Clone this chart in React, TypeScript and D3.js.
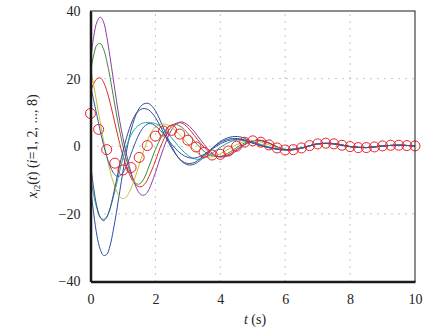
import React, { useEffect, useRef } from 'react';
import * as d3 from 'd3';

// sample times (s) for the eight follower curves
const curveTimes = [
  0, 0.1, 0.2, 0.3, 0.4, 0.5, 0.6, 0.7, 0.8, 0.9, 1.0, 1.1, 1.2, 1.3, 1.4, 1.5, 1.6, 1.7, 1.8, 1.9, 2.0,
  2.2, 2.4, 2.6, 2.8, 3.0, 3.2, 3.4, 3.6, 3.8, 4.0, 4.3, 4.6, 4.9, 5.2, 5.5, 5.8, 6.1, 6.5, 7, 7.5, 8, 8.5, 9, 9.5, 10,
];

const purpleValues = [
  25, 32.5, 36.8, 38.2, 36.8, 32.5, 26.5, 20, 13.5, 7.5, 2.5, -2, -6, -9.3, -12, -13.8, -14.5, -14.2, -12.8, -10.5, -7.8,
  -2, 3, 6.2, 7.2, 6.3, 4.3, 1.8, -0.6, -2.4, -3.2, -2.6, -0.6, 1.2, 1.8, 1.0, -0.4, -1.1, -0.6, 0.7, 0.8, -0.1, -0.4, 0.1, 0.3, 0.1,
];
const greenValues = [
  22, 27, 30, 30.4, 28.8, 25.3, 20.5, 15, 9.5, 4.5, 0, -3.8, -7, -9.5, -11, -11.2, -10.3, -8.5, -6, -3.5, -1,
  3, 5.7, 6.5, 5.7, 3.8, 1.5, -0.6, -2.2, -3, -3, -1.7, 0.2, 1.5, 1.7, 0.9, -0.4, -1.1, -0.6, 0.7, 0.8, -0.1, -0.4, 0.1, 0.3, 0.1,
];
const redValues = [
  16, 18.5, 20, 20.2, 19, 16.5, 13, 9, 4.8, 0.8, -2.8, -5.8, -8.3, -10.2, -11.4, -12, -11.8, -10.8, -9, -6.8, -4.3,
  0.8, 4.6, 6.6, 6.9, 5.5, 3.2, 0.8, -1.3, -2.7, -3.1, -2.2, -0.3, 1.3, 1.8, 1.0, -0.4, -1.1, -0.6, 0.7, 0.8, -0.1, -0.4, 0.1, 0.3, 0.1,
];
const yellowValues = [
  23, 18, 12.5, 7, 1.8, -3, -7.2, -10.6, -13.2, -14.9, -15.5, -15, -13.5, -11.3, -8.5, -5.5, -2.5, 0.3, 2.7, 4.5, 5.7,
  6.6, 6.2, 4.8, 2.8, 0.7, -1.2, -2.6, -3.2, -3, -2.2, -0.6, 0.9, 1.7, 1.4, 0.4, -0.6, -1.0, -0.5, 0.7, 0.7, -0.1, -0.4, 0.1, 0.3, 0.1,
];
const blueValues = [
  18, 13.5, 9, 4.5, 0.5, -3, -5.8, -7.8, -8.8, -8.8, -7.8, -6, -3.6, -1, 1.5, 3.6, 5.2, 6.2, 6.7, 6.6, 6,
  4.2, 1.8, -0.5, -2.3, -3.3, -3.5, -2.9, -1.8, -0.5, 0.7, 1.8, 1.9, 1.2, 0.3, -0.4, -0.9, -1.0, -0.5, 0.7, 0.7, -0.1, -0.4, 0.1, 0.3, 0.1,
];
const navyValues = [
  -5, -12.5, -18, -21, -22, -21, -18.5, -14.5, -10, -5.5, -1.5, 2.2, 5.3, 7.8, 9.6, 10.6, 11.1, 11.1, 10.7, 9.8, 8.5,
  5, 1.2, -2, -4.2, -5.1, -4.8, -3.5, -1.8, -0.2, 1.1, 2.2, 2.2, 1.3, 0.3, -0.4, -0.9, -1.0, -0.5, 0.7, 0.7, -0.1, -0.4, 0.1, 0.3, 0.1,
];
const deepBlueValues = [
  -12, -20, -26.5, -30.5, -32.3, -32, -29.5, -25, -19.5, -13.5, -7.5, -2, 2.8, 6.5, 9.3, 11.2, 12.3, 12.7, 12.6, 11.8, 10.5,
  6.5, 2, -1.8, -4.4, -5.5, -5.3, -4, -2.1, -0.2, 1.4, 2.7, 2.8, 1.7, 0.5, -0.4, -1.0, -1.1, -0.5, 0.7, 0.7, -0.1, -0.4, 0.1, 0.3, 0.1,
];
const cyanValues = [
  -9, -14.5, -18.5, -21, -21.6, -20.8, -18.5, -15.2, -11.3, -7.3, -3.5, -0.3, 2.3, 4.2, 5.5, 6.3, 6.8, 7, 7, 6.9, 6.7,
  5.5, 3.6, 1.3, -0.9, -2.7, -3.7, -3.8, -3, -1.7, -0.3, 1.3, 2, 1.6, 0.7, -0.2, -0.8, -1.0, -0.5, 0.7, 0.7, -0.1, -0.4, 0.1, 0.3, 0.1,
];

const followerSeries = [
  { name: 'x12', color: '#2c4ea6', values: deepBlueValues },
  { name: 'x22', color: '#3a8c3a', values: greenValues },
  { name: 'x32', color: '#e02a2a', values: redValues },
  { name: 'x42', color: '#20a8a8', values: cyanValues },
  { name: 'x52', color: '#8a3aa6', values: purpleValues },
  { name: 'x62', color: '#c4be2c', values: yellowValues },
  { name: 'x72', color: '#3c4a80', values: navyValues },
  { name: 'x82', color: '#3456a8', values: blueValues },
];

// leader trajectory (red circles)
const leaderTimes = [
  0, 0.25, 0.5, 0.75, 1, 1.25, 1.5, 1.75, 2, 2.25, 2.5, 2.75, 3, 3.25, 3.5, 3.75, 4, 4.25, 4.5, 4.75, 5,
  5.25, 5.5, 5.75, 6, 6.25, 6.5, 6.75, 7, 7.25, 7.5, 7.75, 8, 8.25, 8.5, 8.75, 9, 9.25, 9.5, 9.75, 10,
];
const leaderValues = [
  9.7, 5, -1, -5, -7, -6.3, -3.3, 0.2, 3, 4.5, 4.7, 3.6, 1.8, -0.2, -1.8, -2.6, -2.4, -1.4, 0, 1.2, 1.6,
  1.2, 0.4, -0.5, -1.1, -1.0, -0.5, 0.2, 0.7, 0.9, 0.7, 0.3, -0.1, -0.4, -0.4, -0.2, 0.1, 0.3, 0.3, 0.2, 0.1,
];

const xTicks = [0, 2, 4, 6, 8, 10];
const yTicks = [-40, -20, 0, 20, 40];

const W = 441;
const H = 333;
const margin = { top: 11, right: 26, bottom: 51.5, left: 90.5 };
const font = "'Liberation Serif'";

const App = () => {
  const svgRef = useRef<SVGSVGElement | null>(null);

  useEffect(() => {
    document.body.style.margin = '0';
    const svg = d3.select(svgRef.current);
    svg.selectAll('*').remove();

    const x = d3.scaleLinear().domain([0, 10]).range([margin.left, W - margin.right]);
    const y = d3.scaleLinear().domain([-40, 40]).range([H - margin.bottom, margin.top]);

    // grid
    const grid = svg.append('g').attr('stroke', '#8c8c8c').attr('stroke-width', 1).attr('stroke-dasharray', '1,6');
    xTicks.slice(1, -1).forEach((t) => {
      grid.append('line').attr('x1', x(t)).attr('x2', x(t)).attr('y1', y(-40)).attr('y2', y(40));
    });
    yTicks.slice(1, -1).forEach((v) => {
      grid.append('line').attr('x1', x(0)).attr('x2', x(10)).attr('y1', y(v)).attr('y2', y(v));
    });

    const clip = svg.append('clipPath').attr('id', 'plot-clip');
    clip.append('rect').attr('x', x(0)).attr('y', y(40)).attr('width', x(10) - x(0)).attr('height', y(-40) - y(40));

    const line = d3
      .line<number>()
      .x((_, i) => x(curveTimes[i]))
      .y((d) => y(d))
      .curve(d3.curveCatmullRom.alpha(0.5));

    const curves = svg.append('g').attr('clip-path', 'url(#plot-clip)');
    followerSeries.forEach((s) => {
      curves
        .append('path')
        .attr('d', line(s.values))
        .attr('fill', 'none')
        .attr('stroke', s.color)
        .attr('stroke-width', 1);
    });

    svg
      .append('g')
      .selectAll('circle')
      .data(leaderValues)
      .enter()
      .append('circle')
      .attr('cx', (_, i) => x(leaderTimes[i]))
      .attr('cy', (d) => y(d))
      .attr('r', 5)
      .attr('fill', 'none')
      .attr('stroke', '#e8222a')
      .attr('stroke-width', 1);

    // frame
    svg.append('rect')
      .attr('x', x(0)).attr('y', y(40))
      .attr('width', x(10) - x(0)).attr('height', y(-40) - y(40))
      .attr('fill', 'none').attr('stroke', '#1a1a1a').attr('stroke-width', 1);

    const xAxis = d3.axisBottom(x).tickValues(xTicks).tickSize(0).tickPadding(13).tickFormat(d3.format('d'));
    const yAxis = d3.axisLeft(y).tickValues(yTicks).tickSize(0).tickPadding(10)
      .tickFormat((d) => (Number(d) < 0 ? '\u2212' + Math.abs(Number(d)) : String(d)));

    const gx = svg.append('g').attr('transform', `translate(0, ${y(-40)})`).call(xAxis);
    const gy = svg.append('g').attr('transform', `translate(${x(0)}, 0)`).call(yAxis);
    [gx, gy].forEach((g) => {
      g.attr('font-family', null).attr('font-size', null);
      g.select('.domain').attr('stroke', '#1a1a1a').attr('stroke-width', 2.5);
      g.selectAll('text').attr('fill', '#222');
    });

    // axis labels
    const xl = svg.append('text')
      .attr('x', 255).attr('y', 324)
      .attr('text-anchor', 'middle')
      .attr('fill', '#222');
    xl.append('tspan').attr('font-style', 'italic').text('t');
    xl.append('tspan').text(' (s)');

    const yl = svg.append('text')
      .attr('transform', `translate(37, ${(y(40) + y(-40)) / 2}) rotate(-90)`)
      .attr('text-anchor', 'middle')
      .attr('fill', '#222');
    yl.append('tspan').attr('font-style', 'italic').text('x');
    yl.append('tspan').attr('font-style', 'italic').attr('font-size', 9).attr('dy', 3).text('i');
    yl.append('tspan').attr('font-size', 9).text('2');
    yl.append('tspan').attr('dy', -3).text('(');
    yl.append('tspan').attr('font-style', 'italic').text('t');
    yl.append('tspan').text(') (');
    yl.append('tspan').attr('font-style', 'italic').text('i');
    yl.append('tspan').text('=1, 2, ..., 8)');
  }, []);

  return (
    <svg
      ref={svgRef}
      width={W}
      height={H}
      style={{ display: 'block', background: '#fff', fontFamily: font, fontSize: 14 }}
    />
  );
};

export default App;
